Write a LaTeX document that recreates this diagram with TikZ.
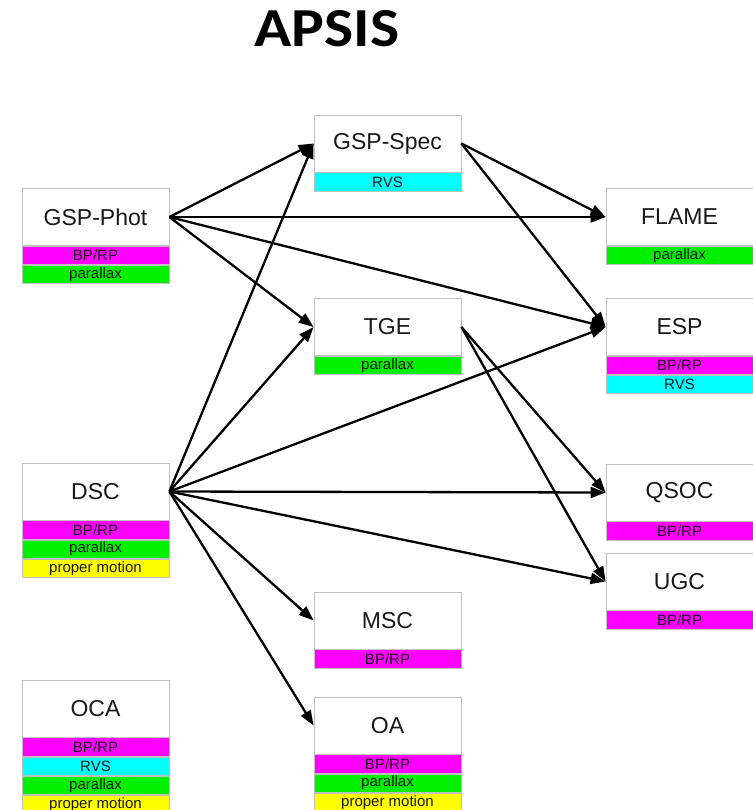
\documentclass[tikz,border=0pt]{standalone}
\usepackage{fontspec}
\setmainfont{Liberation Sans}
\newfontfamily\headfont[FakeStretch=1.12]{Carlito}
\usetikzlibrary{positioning,arrows.meta}
\definecolor{bandmagenta}{RGB}{255,0,255}
\definecolor{bandgreen}{RGB}{0,240,0}
\definecolor{bandcyan}{RGB}{0,255,255}
\definecolor{bandyellow}{RGB}{255,255,0}
\tikzset{
  unitbox/.style={draw=gray!50, line width=0.8pt, fill=white, minimum width=147pt,
    minimum height=57pt, inner sep=0pt, text=black!90, font=\fontsize{23}{23}\selectfont},
  band/.style={draw=gray!50, line width=0.8pt, minimum width=147pt, minimum height=18.3pt,
    inner sep=0pt, text=black!90, font=\fontsize{15}{15}\selectfont},
  feed/.style={line width=2.3pt, -{Triangle[length=15pt,width=11pt]}}
}
\begin{document}
\begin{tikzpicture}[x=1pt,y=-1pt]
		\useasboundingbox (0,0) rectangle (752,810);
		
		%title
		\node (APSIS) at (327,47) [anchor=base, font=\headfont\bfseries\fontsize{55}{55}\selectfont]{APSIS};
		
		%left column
		\node (GSP-Phot) at (95.5,217) [unitbox]{GSP-Phot};
		\node (GSP-Phot bp) [band, fill=bandmagenta, below=0pt of GSP-Phot]{BP/RP};
		\node (GSP-Phot plx) [band, fill=bandgreen, below=0pt of GSP-Phot bp]{parallax};
		
		\node (DSC) at (95.5,491.5) [unitbox]{DSC};
		\node (DSC bp) [band, fill=bandmagenta, below=0pt of DSC]{BP/RP};
		\node (DSC plx) [band, fill=bandgreen, below=0pt of DSC bp]{parallax};
		\node (DSC pm) [band, fill=bandyellow, below=0pt of DSC plx]{proper motion};
		
		\node (OCA) at (95.5,708.5) [unitbox]{OCA};
		\node (OCA bp) [band, fill=bandmagenta, below=0pt of OCA]{BP/RP};
		\node (OCA rvs) [band, fill=bandcyan, below=0pt of OCA bp]{RVS};
		\node (OCA plx) [band, fill=bandgreen, below=0pt of OCA rvs]{parallax};
		\node (OCA pm) [band, fill=bandyellow, below=0pt of OCA plx]{proper motion};
		
		%middle column
		\node (GSP-Spec) at (387.5,143.5) [unitbox]{GSP-Spec};
		\node (GSP-Spec rvs) [band, fill=bandcyan, below=0pt of GSP-Spec]{RVS};
		
		\node (TGE) at (387.5,327) [unitbox]{TGE};
		\node (TGE plx) [band, fill=bandgreen, below=0pt of TGE]{parallax};
		
		\node (MSC) at (387.5,620.5) [unitbox]{MSC};
		\node (MSC bp) [band, fill=bandmagenta, below=0pt of MSC]{BP/RP};
		
		\node (OA) at (387.5,725.5) [unitbox]{OA};
		\node (OA bp) [band, fill=bandmagenta, below=0pt of OA]{BP/RP};
		\node (OA plx) [band, fill=bandgreen, below=0pt of OA bp]{parallax};
		\node (OA pm) [band, fill=bandyellow, below=0pt of OA plx]{proper motion};
		
		%right column
		\node (FLAME) at (679.5,217) [unitbox]{FLAME};
		\node (FLAME plx) [band, fill=bandgreen, below=0pt of FLAME]{parallax};
		
		\node (ESP) at (679.5,327) [unitbox]{ESP};
		\node (ESP bp) [band, fill=bandmagenta, below=0pt of ESP]{BP/RP};
		\node (ESP rvs) [band, fill=bandcyan, below=0pt of ESP bp]{RVS};
		
		\node (QSOC) at (679.5,492.5) [unitbox]{QSOC};
		\node (QSOC bp) [band, fill=bandmagenta, below=0pt of QSOC]{BP/RP};
		
		\node (UGC) at (679.5,581.5) [unitbox]{UGC};
		\node (UGC bp) [band, fill=bandmagenta, below=0pt of UGC]{BP/RP};
		
		%GSP-Phot links
		\draw[feed] (GSP-Phot.east) -- (GSP-Spec.west);
		\draw[feed] (GSP-Phot.east) -- (FLAME.west);
		\draw[feed] (GSP-Phot.east) -- (TGE.west);
		\draw[feed] (GSP-Phot.east) -- (ESP.west);
		
		%GSP-Spec and TGE links
		\draw[feed] (GSP-Spec.east) -- (FLAME.west);
		\draw[feed] (GSP-Spec.east) -- (ESP.west);
		\draw[feed] (TGE.east) -- (QSOC.west);
		\draw[feed] (TGE.east) -- (UGC.west);
		
		%DSC links
		\draw[feed] (DSC.east) -- (GSP-Spec.west);
		\draw[feed] (DSC.east) -- (TGE.west);
		\draw[feed] (DSC.east) -- (ESP.west);
		\draw[feed] (DSC.east) -- (QSOC.west);
		\draw[feed] (DSC.east) -- (UGC.west);
		\draw[feed] (DSC.east) -- (MSC.west);
		\draw[feed] (DSC.east) -- (OA.west);
		
\end{tikzpicture}
\end{document}
